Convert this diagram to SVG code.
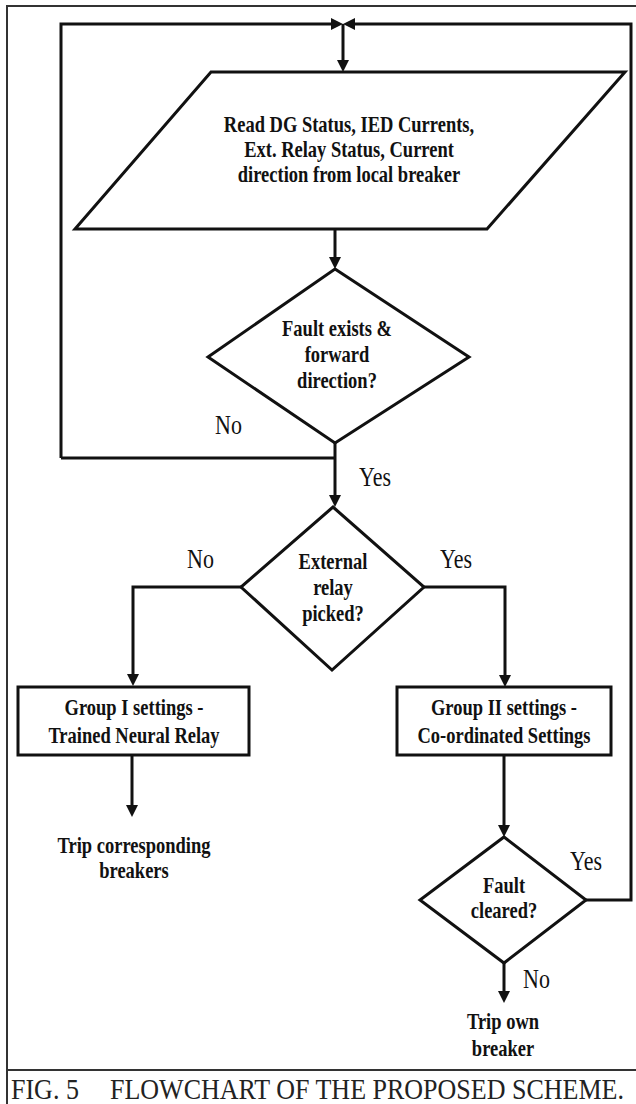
<svg xmlns="http://www.w3.org/2000/svg" width="636" height="1104" viewBox="0 0 636 1104">
<style>
.bg{fill:#ffffff}
.frame{fill:none;stroke:#333;stroke-width:2}
.shape{fill:#ffffff;stroke:#111;stroke-width:3;stroke-linejoin:miter}
.conn{fill:none;stroke:#111;stroke-width:3}
.t{font-family:"Liberation Serif","Times New Roman",serif;font-weight:bold;font-size:18.5px;fill:#111;text-anchor:middle}
.lbl{font-family:"Liberation Serif","Times New Roman",serif;font-size:22px;fill:#111}
.cap{font-family:"Liberation Serif","Times New Roman",serif;font-size:26px;fill:#222}
</style>
<defs>
<marker id="ah" viewBox="0 0 12 12" refX="6" refY="6" markerWidth="12" markerHeight="12" markerUnits="userSpaceOnUse" orient="auto">
<path d="M0,0 L12,6 L0,12 z" fill="#111"/>
</marker>
</defs>
<rect class="bg" x="0" y="0" width="636" height="1104"/>
<g id="frame">
<path class="frame" d="M637,6 H7 V1104"/>
<line class="frame" x1="7" y1="1070" x2="637" y2="1070"/>
</g>
<g id="connectors">
<path class="conn" d="M61,458 V24 H337" marker-end="url(#ah)"/>
<path class="conn" d="M586,900 H631 V24 H349" marker-end="url(#ah)"/>
<path class="conn" d="M343,24 V66" marker-end="url(#ah)"/>
<path class="conn" d="M335,229 V263" marker-end="url(#ah)"/>
<path class="conn" d="M335,443 V501" marker-end="url(#ah)"/>
<path class="conn" d="M61,458 H335"/>
<path class="conn" d="M241,587 H133 V680" marker-end="url(#ah)"/>
<path class="conn" d="M424,587 H505 V681" marker-end="url(#ah)"/>
<path class="conn" d="M132,755 V811" marker-end="url(#ah)"/>
<path class="conn" d="M504,755 V831" marker-end="url(#ah)"/>
<path class="conn" d="M504,963 V997" marker-end="url(#ah)"/>
</g>
<g id="read-input">
<polygon class="shape" points="211,72 625,72 487,229 75,229"/>
<text class="t" transform="translate(349 132) scale(1 1.2)">Read DG Status, IED Currents,</text>
<text class="t" transform="translate(349 157) scale(1 1.2)">Ext. Relay Status, Current</text>
<text class="t" transform="translate(349 182) scale(1 1.2)">direction from local breaker</text>
</g>
<g id="fault-exists">
<polygon class="shape" points="335,269 469,357 335,443 208,357"/>
<text class="t" transform="translate(337 336) scale(1 1.2)">Fault exists &amp;</text>
<text class="t" transform="translate(337 362) scale(1 1.2)">forward</text>
<text class="t" transform="translate(337 388) scale(1 1.2)">direction?</text>
</g>
<g id="external-relay">
<polygon class="shape" points="333,507 424,587 332,670 241,587"/>
<text class="t" transform="translate(333 569) scale(1 1.2)">External</text>
<text class="t" transform="translate(333 595) scale(1 1.2)">relay</text>
<text class="t" transform="translate(333 621) scale(1 1.2)">picked?</text>
</g>
<g id="group1">
<rect class="shape" x="18" y="687" width="231" height="68"/>
<text class="t" transform="translate(134 715) scale(1 1.2)">Group I settings -</text>
<text class="t" transform="translate(134 743) scale(1 1.2)">Trained Neural Relay</text>
</g>
<g id="group2">
<rect class="shape" x="397" y="687" width="214" height="68"/>
<text class="t" transform="translate(504 715) scale(1 1.2)">Group II settings -</text>
<text class="t" transform="translate(504 743) scale(1 1.2)">Co-ordinated Settings</text>
</g>
<g id="trip-corresponding">
<text class="t" transform="translate(134 853) scale(1 1.2)">Trip corresponding</text>
<text class="t" transform="translate(134 878) scale(1 1.2)">breakers</text>
</g>
<g id="fault-cleared">
<polygon class="shape" points="504,837 586,900 504,963 420,900"/>
<text class="t" transform="translate(504 893) scale(1 1.2)">Fault</text>
<text class="t" transform="translate(504 918) scale(1 1.2)">cleared?</text>
</g>
<g id="trip-own">
<text class="t" transform="translate(503 1029) scale(1 1.2)">Trip own</text>
<text class="t" transform="translate(503 1056) scale(1 1.2)">breaker</text>
</g>
<g id="labels">
<text class="lbl" transform="translate(215 434) scale(1 1.2)">No</text>
<text class="lbl" transform="translate(359 486) scale(1 1.2)">Yes</text>
<text class="lbl" transform="translate(187 568) scale(1 1.2)">No</text>
<text class="lbl" transform="translate(440 568) scale(1 1.2)">Yes</text>
<text class="lbl" transform="translate(570 870) scale(1 1.2)">Yes</text>
<text class="lbl" transform="translate(523 988) scale(1 1.2)">No</text>
</g>
<g id="caption">
<text class="cap" transform="translate(11 1099) scale(1 1.1)">FIG. 5</text>
<text class="cap" transform="translate(110 1099) scale(1 1.1)">FLOWCHART OF THE PROPOSED SCHEME.</text>
</g>
</svg>
